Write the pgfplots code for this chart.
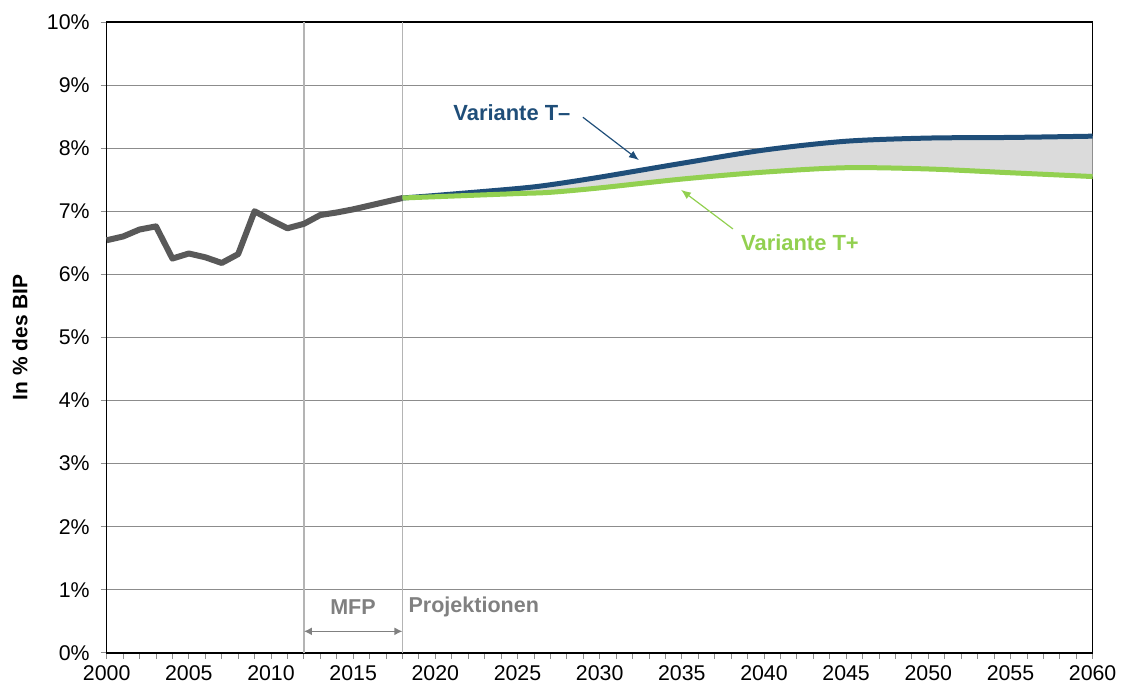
\documentclass[border=0pt]{standalone}
\usepackage{fontspec}
\setmainfont{Liberation Sans}
\usepackage{pgfplots}
\pgfplotsset{compat=1.18}
\usepgfplotslibrary{fillbetween}
\usetikzlibrary{arrows.meta}
\definecolor{histgray}{HTML}{595959}
\definecolor{tminus}{HTML}{1F4E79}
\definecolor{tplus}{HTML}{92D050}
\definecolor{gridc}{HTML}{8C8C8C}
\definecolor{vlinec}{HTML}{B4B4B4}
\definecolor{txtgray}{HTML}{808080}
\begin{document}
\begin{tikzpicture}
\begin{axis}[
    scale only axis,
    width=493bp, height=315.4bp,
    xmin=2000, xmax=2060, ymin=0, ymax=10,
    xtick={2000,2005,...,2060},
    minor x tick num=4,
    ytick={0,1,...,10},
    yticklabel={\pgfmathprintnumber{\tick}\%},
    xticklabel style={/pgf/number format/1000 sep={}},
    yticklabel style={xshift=-2bp},
    /pgf/number format/assume math mode=true,
    tick align=outside,
    major tick length=3bp, minor tick length=3bp,
    tick style={gridc, line width=0.4pt},
    xtick pos=bottom, ytick pos=left,
    ymajorgrids, grid style={gridc, line width=0.5pt},
    axis line style={black, line width=0.8pt},
    ylabel={\textbf{In \% des BIP}},
    ylabel style={font=\fontsize{10.5}{12}\selectfont, at={(rel axis cs:-0.0879,0.5)}, anchor=center},
    tick label style={font=\fontsize{10.7}{12}\selectfont},
    clip=false,
]
% projections
\addplot[name path=A, draw=none, forget plot, smooth] coordinates {
    (2018,7.21) (2020,7.25) (2025,7.36) (2027,7.42) (2030,7.54) (2035,7.76)
    (2040,7.97) (2045,8.11) (2050,8.16) (2055,8.17) (2060,8.19)
};
\addplot[name path=B, draw=none, forget plot, smooth] coordinates {
    (2018,7.21) (2020,7.23) (2025,7.28) (2027,7.30) (2030,7.37) (2035,7.51)
    (2040,7.62) (2045,7.69) (2050,7.67) (2055,7.61) (2060,7.55)
};
\addplot[fill=gray!28, draw=none] fill between[of=A and B];

% vertical separators
\draw[vlinec, line width=0.7pt] (axis cs:2012,0) -- (axis cs:2012,10);
\draw[vlinec, line width=0.7pt] (axis cs:2018,0) -- (axis cs:2018,10);

% history
\addplot[histgray, line width=3bp, line join=round] coordinates {
    (2000,6.54) (2001,6.60) (2002,6.71) (2003,6.76) (2004,6.25) (2005,6.33)
    (2006,6.27) (2007,6.18) (2008,6.32) (2009,7.00) (2010,6.86) (2011,6.73)
    (2012,6.80) (2013,6.94) (2014,6.98) (2015,7.03) (2016,7.09) (2017,7.15)
    (2018,7.21)
};
\addplot[tminus, line width=2.5bp, smooth] coordinates {
    (2018,7.21) (2020,7.25) (2025,7.36) (2027,7.42) (2030,7.54) (2035,7.76)
    (2040,7.97) (2045,8.11) (2050,8.16) (2055,8.17) (2060,8.19)
};
\addplot[tplus, line width=2.5bp, smooth] coordinates {
    (2018,7.21) (2020,7.23) (2025,7.28) (2027,7.30) (2030,7.37) (2035,7.51)
    (2040,7.62) (2045,7.69) (2050,7.67) (2055,7.61) (2060,7.55)
};

% annotations
\node[tminus, font=\fontsize{11}{13}\selectfont\bfseries] at (axis cs:2024.66,8.57) {Variante T–};
\draw[tminus, line width=0.6pt, -{Latex[length=5pt,width=4pt]}] (axis cs:2028.98,8.49) -- (axis cs:2032.39,7.81);
\node[tplus, font=\fontsize{11}{13}\selectfont\bfseries] at (axis cs:2042.19,6.50) {Variante T+};
\draw[tplus, line width=0.6pt, -{Latex[length=5pt,width=4pt]}] (axis cs:2038.11,6.72) -- (axis cs:2034.95,7.34);

\node[txtgray, font=\fontsize{10.8}{12}\selectfont\bfseries] at (axis cs:2014.99,0.72) {MFP};
\node[txtgray, anchor=west, inner sep=0pt, font=\fontsize{10.8}{12}\selectfont\bfseries] at (axis cs:2018.35,0.72) {Projektionen};
\draw[txtgray, line width=0.8pt, {Latex[length=4pt,width=4pt]}-{Latex[length=4pt,width=4pt]}] (axis cs:2012,0.34) -- (axis cs:2018,0.34);

% page extent
\path (rel axis cs:-0.1082,-0.0560) -- (rel axis cs:1.0308,1.0349);
\end{axis}
\end{tikzpicture}
\end{document}
